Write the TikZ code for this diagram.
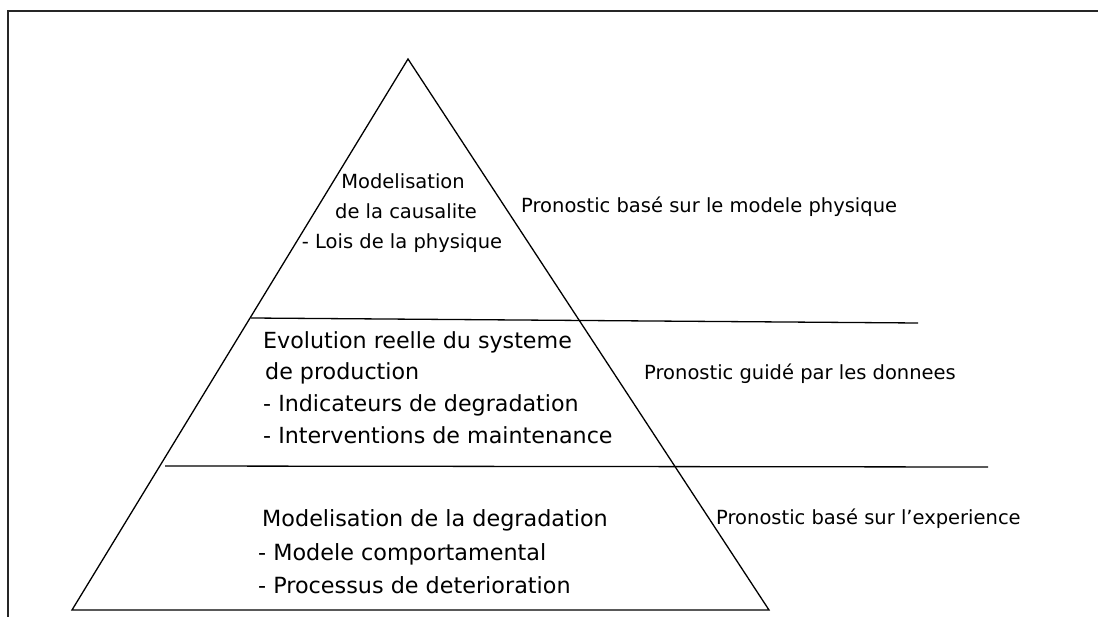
\documentclass[tikz,border=0pt]{standalone}
\usepackage{fontspec}
\setmainfont{DejaVu Sans}
\begin{document}
\begin{tikzpicture}[x=1pt,y=-1pt,
  edge/.style={line width=1.3pt,black},
  frame/.style={line width=1.6pt,black!85},
  lbl/.style={inner sep=0pt,anchor=base west},
  clbl/.style={inner sep=0pt,anchor=base},
  ftop/.style={font=\fontsize{19.5}{22}\selectfont},
  fmid/.style={font=\fontsize{22.2}{25}\selectfont},
  fbot/.style={font=\fontsize{22.3}{25}\selectfont},
  fright/.style={font=\fontsize{19.5}{22}\selectfont}]
\useasboundingbox (0,0) rectangle (1098,617);
% frame
\coordinate (fl) at (8,617);
\coordinate (ftl) at (8,11);
\coordinate (ftr) at (1098,11);
\draw[frame] (fl) -- (ftl) -- (ftr);
% pyramid
\coordinate (A) at (408,59);
\coordinate (BL) at (72,610);
\coordinate (BR) at (769,610);
\draw[edge,line join=miter] (A) -- (BL) -- (BR) -- cycle;
\coordinate (l1a) at (251,318);
\coordinate (l1b) at (918,323);
\coordinate (l2a) at (165,466);
\coordinate (l2b) at (988,467);
\draw[edge] (l1a) -- (l1b);
\draw[edge] (l2a) -- (l2b);
% top block
\node[clbl,ftop] (t1) at (403,189) {Modelisation};
\node[clbl,ftop] (t2) at (406,219) {de la causalite};
\node[clbl,ftop] (t3) at (402,249) {- Lois de la physique};
% middle block
\node[lbl,fmid] (m1) at (263,349) {Evolution reelle du systeme};
\node[lbl,fmid] (m2) at (265,380) {de production};
\node[lbl,fmid] (m3) at (263,412) {- Indicateurs de degradation};
\node[lbl,fmid] (m4) at (263,443) {- Interventions de maintenance};
% bottom block
\node[lbl,fbot] (b1) at (262,526) {Modelisation de la degradation};
\node[lbl,fbot] (b2) at (258,560) {- Modele comportamental};
\node[lbl,fbot] (b3) at (258,593) {- Processus de deterioration};
% right labels
\node[lbl,fright] (r1) at (521,213) {Pronostic basé sur le modele physique};
\node[lbl,fright] (r2) at (644,380) {Pronostic guidé par les donnees};
\node[lbl,fright] (r3) at (716,524) {Pronostic basé sur l’experience};
\end{tikzpicture}
\end{document}
